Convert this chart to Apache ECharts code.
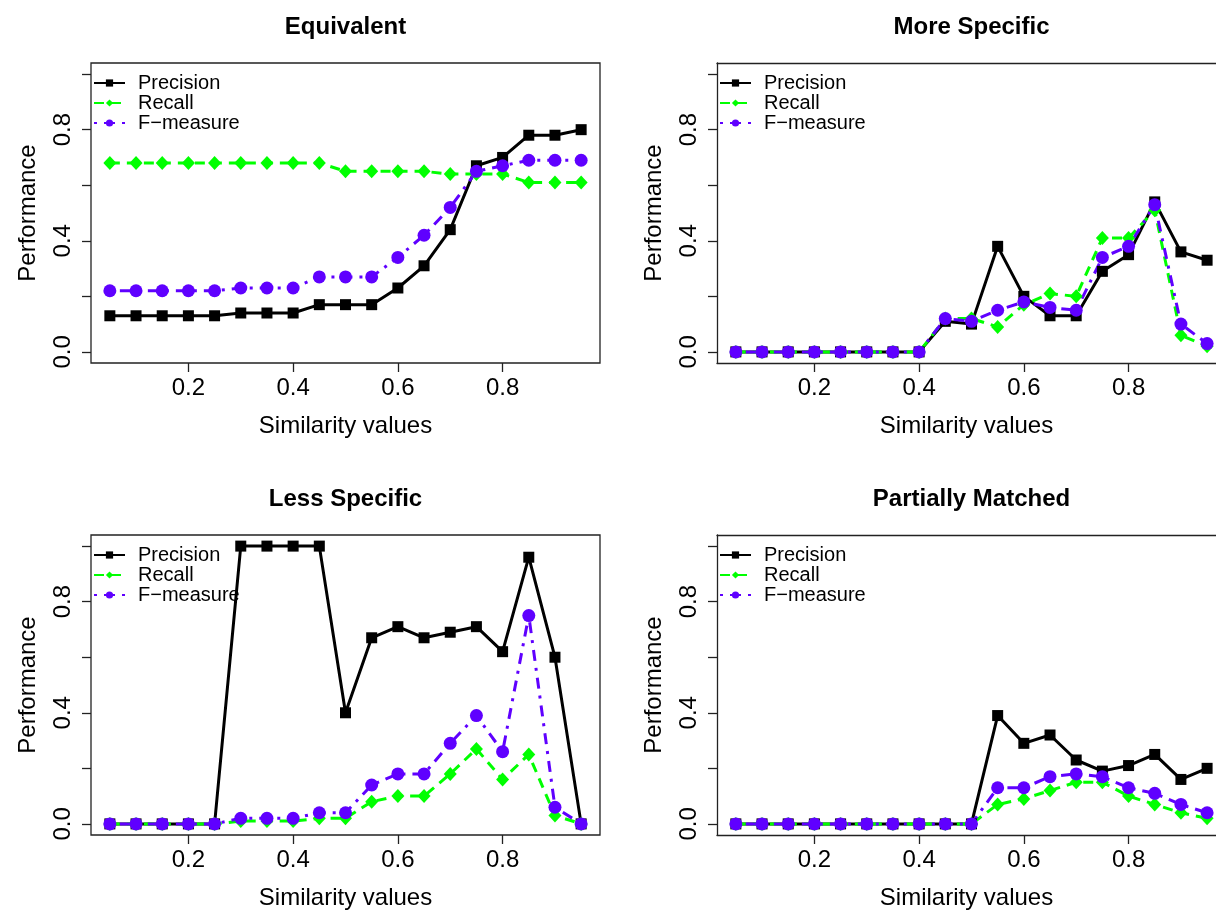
<!DOCTYPE html>
<html>
<head>
<meta charset="utf-8">
<script src="https://cdn.jsdelivr.net/npm/echarts@6/dist/echarts.min.js"></script>
<style>
  html, body { margin: 0; padding: 0; background: #fff; }
  #chart { width: 1216px; height: 911px; }
</style>
</head>
<body>
<div id="chart"></div>
<script>
// similarity thresholds (x axis)
const simValues = [0.05, 0.10, 0.15, 0.20, 0.25, 0.30, 0.35, 0.40, 0.45, 0.50,
                   0.55, 0.60, 0.65, 0.70, 0.75, 0.80, 0.85, 0.90, 0.95];
const xTicks = [0.2, 0.4, 0.6, 0.8];
const yTicks = [0, 0.2, 0.4, 0.6, 0.8, 1.0];
const yLabels = [0, 0.4, 0.8];
const panelTitles = ['Equivalent', 'More Specific', 'Less Specific', 'Partially Matched'];
const seriesNames = ['Precision', 'Recall', 'F\u2212measure'];

// Equivalent
const eqPrecision = [0.13, 0.13, 0.13, 0.13, 0.13, 0.14, 0.14, 0.14, 0.17, 0.17, 0.17, 0.23, 0.31, 0.44, 0.67, 0.70, 0.78, 0.78, 0.80];
const eqRecall    = [0.68, 0.68, 0.68, 0.68, 0.68, 0.68, 0.68, 0.68, 0.68, 0.65, 0.65, 0.65, 0.65, 0.64, 0.64, 0.64, 0.61, 0.61, 0.61];
const eqFmeasure  = [0.22, 0.22, 0.22, 0.22, 0.22, 0.23, 0.23, 0.23, 0.27, 0.27, 0.27, 0.34, 0.42, 0.52, 0.65, 0.67, 0.69, 0.69, 0.69];
// More Specific
const msPrecision = [0, 0, 0, 0, 0, 0, 0, 0, 0.11, 0.10, 0.38, 0.20, 0.13, 0.13, 0.29, 0.35, 0.54, 0.36, 0.33];
const msRecall    = [0, 0, 0, 0, 0, 0, 0, 0, 0.12, 0.12, 0.09, 0.17, 0.21, 0.20, 0.41, 0.41, 0.51, 0.06, 0.02];
const msFmeasure  = [0, 0, 0, 0, 0, 0, 0, 0, 0.12, 0.11, 0.15, 0.18, 0.16, 0.15, 0.34, 0.38, 0.53, 0.10, 0.03];
// Less Specific
const lsPrecision = [0, 0, 0, 0, 0, 1.00, 1.00, 1.00, 1.00, 0.40, 0.67, 0.71, 0.67, 0.69, 0.71, 0.62, 0.96, 0.60, 0];
const lsRecall    = [0, 0, 0, 0, 0, 0.01, 0.01, 0.01, 0.02, 0.02, 0.08, 0.10, 0.10, 0.18, 0.27, 0.16, 0.25, 0.03, 0];
const lsFmeasure  = [0, 0, 0, 0, 0, 0.02, 0.02, 0.02, 0.04, 0.04, 0.14, 0.18, 0.18, 0.29, 0.39, 0.26, 0.75, 0.06, 0];
// Partially Matched
const pmPrecision = [0, 0, 0, 0, 0, 0, 0, 0, 0, 0, 0.39, 0.29, 0.32, 0.23, 0.19, 0.21, 0.25, 0.16, 0.20];
const pmRecall    = [0, 0, 0, 0, 0, 0, 0, 0, 0, 0, 0.07, 0.09, 0.12, 0.15, 0.15, 0.10, 0.07, 0.04, 0.02];
const pmFmeasure  = [0, 0, 0, 0, 0, 0, 0, 0, 0, 0, 0.13, 0.13, 0.17, 0.18, 0.17, 0.13, 0.11, 0.07, 0.04];

const panelData = [
  [eqPrecision, eqRecall, eqFmeasure],
  [msPrecision, msRecall, msFmeasure],
  [lsPrecision, lsRecall, lsFmeasure],
  [pmPrecision, pmRecall, pmFmeasure]
];

const FONT = '"Liberation Sans", Arial, Helvetica, sans-serif';
const purple = '#5f00ff';
const green = '#00ff00';
const boxColor = '#222';

// panel boxes: [left, top, width, xmax]; right column runs off the page like the original
const boxes = [[91, 63, 509, 0.986], [717, 63, 499, 0.967], [91, 535, 509, 0.986], [717, 535, 499, 0.967]];
const boxH = 300;

const styles = [
  {color: '#000', symbol: 'rect', size: 11, type: 'solid'},
  {color: green, symbol: 'diamond', size: [13, 14], type: [10, 7]},
  {color: purple, symbol: 'circle', size: 13, type: [3, 7, 11, 7]}
];

const grids = [], xAxes = [], yAxes = [], series = [], titles = [], legends = [];
const topAxes = [];

boxes.forEach(function (b, p) {
  const clipped = b[3] < 0.98;
  grids.push({
    left: b[0], top: b[1], width: b[2], height: boxH,
    show: !clipped, borderColor: boxColor, borderWidth: 1.3, backgroundColor: 'transparent'
  });
  xAxes.push({
    type: 'value', gridIndex: p, min: 0.014, max: b[3],
    name: 'Similarity values', nameLocation: 'middle', nameGap: 51,
    nameTextStyle: {fontFamily: FONT, fontSize: 24, color: '#000'},
    axisLine: {show: clipped, onZero: false, lineStyle: {color: boxColor, width: 1.3}},
    splitLine: {show: false},
    axisTick: {show: true, inside: false, length: 9, customValues: xTicks,
               lineStyle: {color: boxColor, width: 1.3}},
    axisLabel: {customValues: xTicks, margin: 13, fontFamily: FONT, fontSize: 24, color: '#000',
                formatter: function (v) { return v.toFixed(1); }}
  });
  if (clipped) {
    // top edge of the box
    topAxes.push({
      type: 'value', gridIndex: p, position: 'top', min: 0, max: 1,
      axisLine: {show: true, onZero: false, lineStyle: {color: boxColor, width: 1.3}},
      axisTick: {show: false}, axisLabel: {show: false}, splitLine: {show: false}
    });
  }
  yAxes.push({
    type: 'value', gridIndex: p, min: -0.04, max: 1.04,
    name: 'Performance', nameLocation: 'middle', nameGap: 51,
    nameTextStyle: {fontFamily: FONT, fontSize: 24, color: '#000'},
    axisLine: {show: clipped, onZero: false, lineStyle: {color: boxColor, width: 1.3}},
    splitLine: {show: false},
    axisTick: {show: true, inside: false, length: 9, customValues: yTicks,
               lineStyle: {color: boxColor, width: 1.3}},
    axisLabel: {customValues: yLabels, rotate: 90, margin: 16, fontFamily: FONT, fontSize: 24, color: '#000',
                formatter: function (v) { return v.toFixed(1); }}
  });
  titles.push({
    text: panelTitles[p], left: 91 + (p % 2) * 626 + 509 / 2, top: b[1] - 48, textAlign: 'center', padding: 0,
    textStyle: {fontFamily: FONT, fontSize: 24, fontWeight: 'bold', color: '#000'}
  });
  panelData[p].forEach(function (vals, s) {
    const st = styles[s];
    series.push({
      name: seriesNames[s], type: 'line',
      xAxisIndex: p, yAxisIndex: p,
      data: vals.map(function (v, i) { return [simValues[i], v]; }),
      symbol: st.symbol, symbolSize: st.size, showAllSymbol: true,
      itemStyle: {color: st.color},
      lineStyle: {color: st.color, width: 3, type: st.type},
      emphasis: {disabled: true},
      clip: false,
      animation: false
    });
  });
  legends.push({
    orient: 'vertical', left: b[0] + 2, top: b[1] + 10,
    data: seriesNames, itemWidth: 31, itemHeight: 9, itemGap: 0, padding: 0,
    selectedMode: false,
    textStyle: {fontFamily: FONT, fontSize: 20, color: '#000', lineHeight: 19, padding: [0, 0, 0, 8]}
  });
});

const chart = echarts.init(document.getElementById('chart'));
chart.setOption({
  backgroundColor: '#fff',
  animation: false,
  title: titles,
  legend: legends,
  grid: grids,
  xAxis: xAxes.concat(topAxes),
  yAxis: yAxes,
  series: series
});
</script>
</body>
</html>
